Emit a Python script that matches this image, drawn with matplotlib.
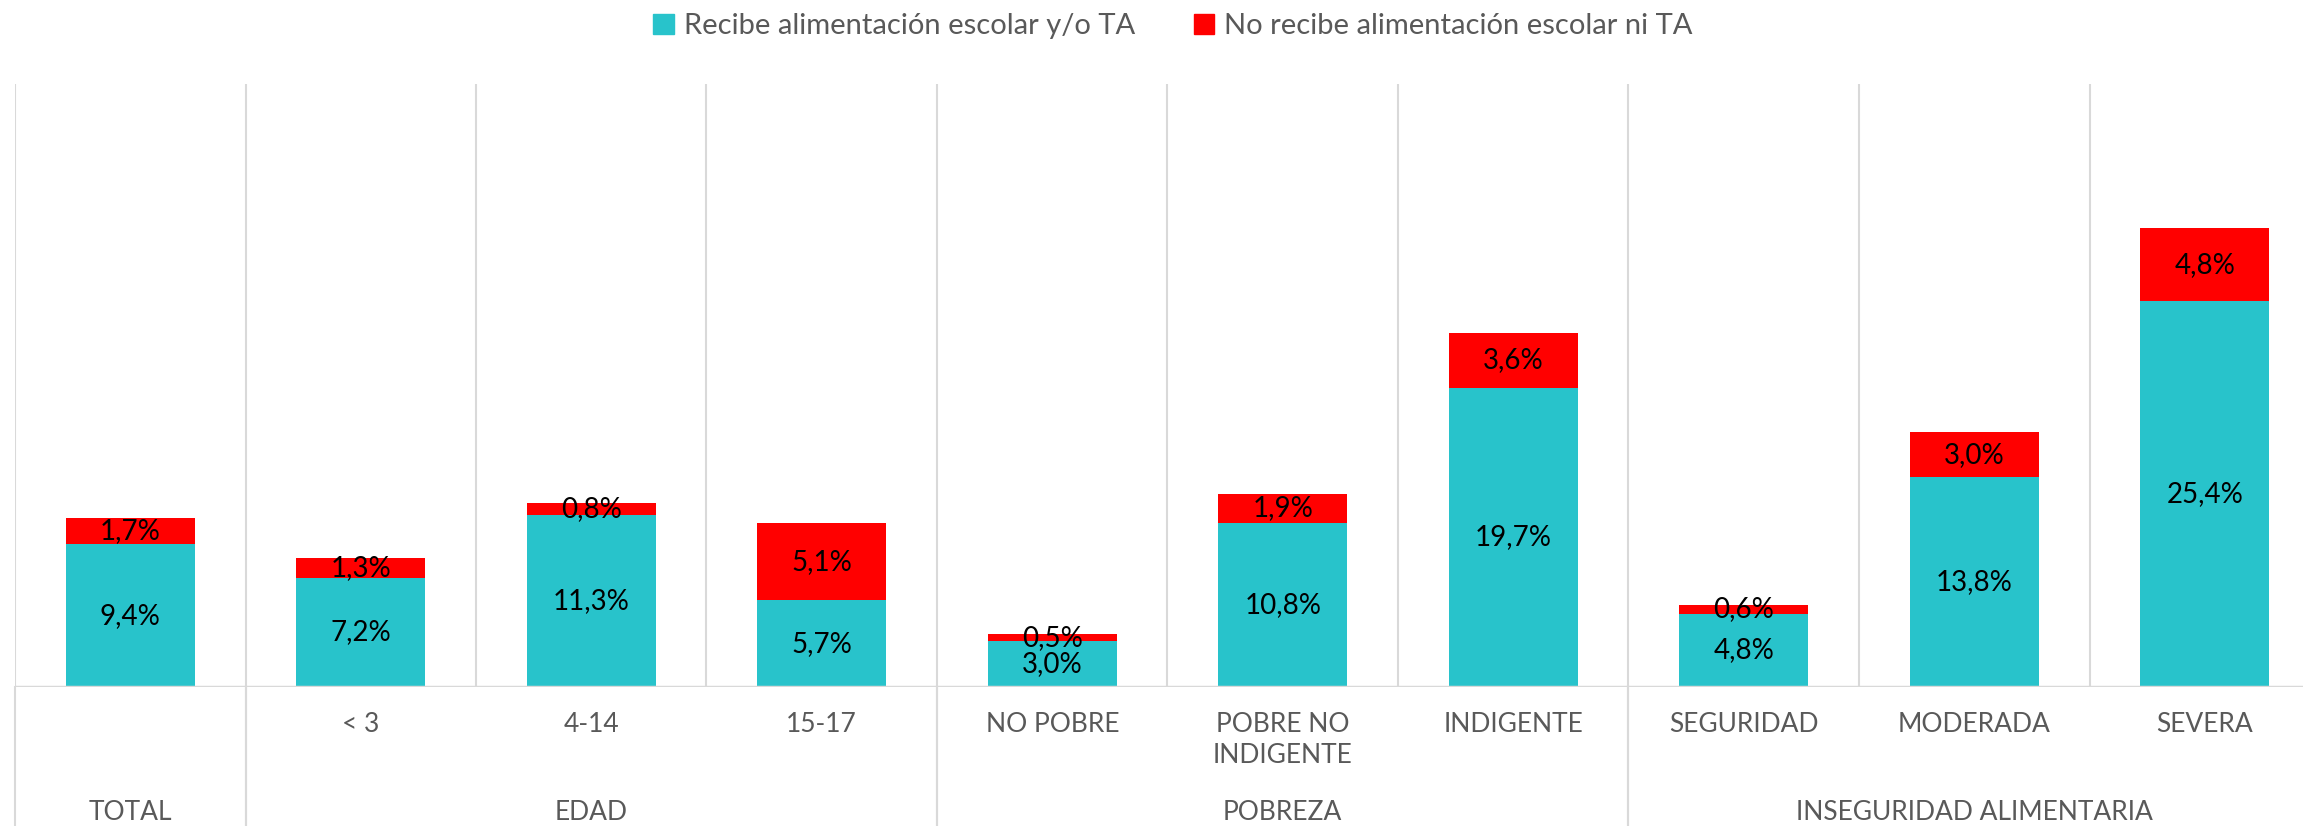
import matplotlib
matplotlib.use("Agg")
import matplotlib.pyplot as plt
from matplotlib.patches import Rectangle
import matplotlib.transforms as mtransforms

plt.rcParams['font.family'] = ['Lato', 'DejaVu Sans']

categories = ["", "< 3", "4-14", "15-17", "NO POBRE", "POBRE NO\nINDIGENTE",
              "INDIGENTE", "SEGURIDAD", "MODERADA", "SEVERA"]
recibe = [9.4, 7.2, 11.3, 5.7, 3.0, 10.8, 19.7, 4.8, 13.8, 25.4]
no_recibe = [1.7, 1.3, 0.8, 5.1, 0.5, 1.9, 3.6, 0.6, 3.0, 4.8]
groups = ["TOTAL", "EDAD", "POBREZA", "INSEGURIDAD ALIMENTARIA"]
group_spans = [(0, 0), (1, 3), (4, 6), (7, 9)]
series_names = ["Recibe alimentación escolar y/o TA", "No recibe alimentación escolar ni TA"]

TEAL = "#28C3CB"
RED = "#FF0000"
GRID = "#D9D9D9"
TXT = "#595959"

W, H = 2303, 826
fig = plt.figure(figsize=(W / 100, H / 100), dpi=100)
left, right, base, top = 15, 2320, 687, 84
ax = fig.add_axes([left / W, (H - base) / H, (right - left) / W, (base - top) / H])

x = list(range(len(categories)))
b1 = ax.bar(x, recibe, width=0.56, color=TEAL, zorder=3)
b2 = ax.bar(x, no_recibe, width=0.56, bottom=recibe, color=RED, zorder=3)

fmt = lambda v: f"{v:.1f}".replace('.', ',') + '%'
ax.bar_label(b1, labels=[fmt(v) for v in recibe], label_type='center', fontsize=20, color='black', zorder=5)
ax.bar_label(b2, labels=[fmt(v) for v in no_recibe], label_type='center', fontsize=20, color='black', zorder=5)

ax.set_xlim(-0.5, 9.5)
ax.set_ylim(0, 39.7)
for s in ax.spines.values():
    s.set_visible(False)
ax.set_xticks([])
ax.set_yticks([])

for i in range(len(categories) + 1):
    ax.axvline(i - 0.5, color=GRID, lw=1.5, zorder=1)
ax.axhline(0, color=GRID, lw=2.5, zorder=4)

trans = mtransforms.blended_transform_factory(ax.transData, ax.transAxes)
for (a, b) in group_spans:
    for bx in (a - 0.5, b + 0.5):
        ax.plot([bx, bx], [0, -0.3], color=GRID, lw=1.5, transform=trans, clip_on=False, zorder=1)

ph = base - top
for i, c in enumerate(categories):
    ax.text(i, -(712 - base) / ph, c, transform=trans, ha='center', va='top',
            fontsize=19, color=TXT, linespacing=1.3)

for g, (a, b) in zip(groups, group_spans):
    ax.text((a + b) / 2, -(813 - base) / ph, g, transform=trans, ha='center', va='center',
            fontsize=19, color=TXT)

handles = [Rectangle((0, 0), 1, 1, color=TEAL), Rectangle((0, 0), 1, 1, color=RED)]
fig.legend(handles, series_names, loc='center', bbox_to_anchor=(1173 / W, 1 - 26 / H), ncol=2,
           frameon=False, fontsize=21, labelcolor=TXT, handlelength=0.7, handleheight=0.7,
           handletextpad=0.35, columnspacing=2.0)

fig.savefig("out.png", dpi=100)
